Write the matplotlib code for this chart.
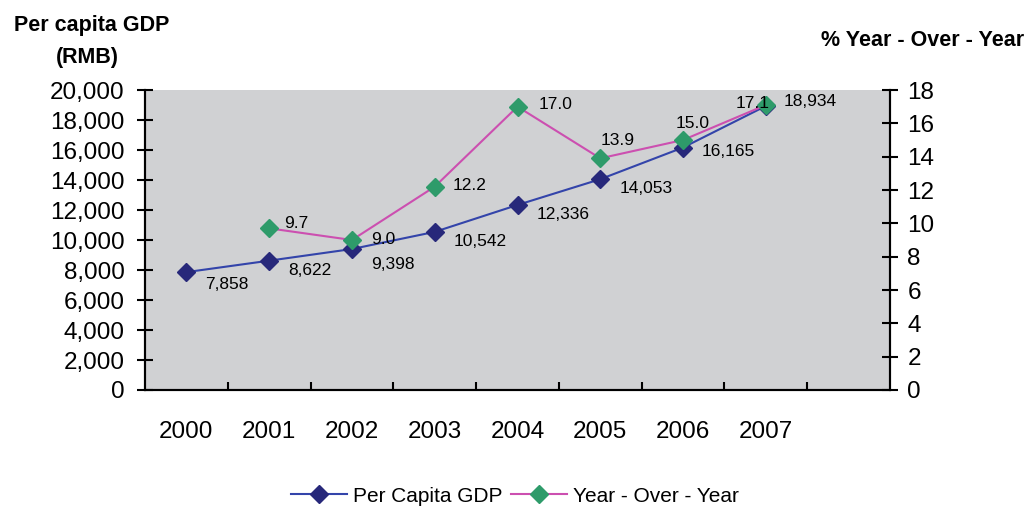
import matplotlib.pyplot as plt
from matplotlib.ticker import FuncFormatter, FixedLocator

plt.rcParams['font.family'] = ['Liberation Sans', 'DejaVu Sans']

# data
years = ['2000', '2001', '2002', '2003', '2004', '2005', '2006', '2007']
gdp = [7858, 8622, 9398, 10542, 12336, 14053, 16165, 18934]
yoy_years = ['2001', '2002', '2003', '2004', '2005', '2006', '2007']
yoy = [9.7, 9.0, 12.2, 17.0, 13.9, 15.0, 17.1]

# label offsets in pixels (style only)
gdp_off = [(19, -12), (19, -10), (19, -15), (19, -10), (19, -10), (19, -9), (19, -4), (18, 4)]
yoy_off = [(15, 5), (19, 1), (18, 1), (21, 2), (0, 18), (-7, 17), (-30, 1)]

BG = '#D0D1D3'
GDP_LINE = '#3344AA'
GDP_MARK = '#27287A'
YOY_LINE = '#CC4FB0'
YOY_MARK = '#2E9B6A'

fig = plt.figure(figsize=(10.27, 5.07), dpi=100)
ax = fig.add_axes([145 / 1027, 1 - 390 / 507, 745 / 1027, 300 / 507])
ax2 = ax.twinx()

x = list(range(len(years)))
xi = [years.index(y) for y in yoy_years]

l1, = ax.plot(x, gdp, color=GDP_LINE, lw=1.5, marker='D', ms=9.5,
              mfc=GDP_MARK, mec=GDP_MARK, label='Per Capita GDP', zorder=3)
l2, = ax2.plot(xi, yoy, color=YOY_LINE, lw=1.5, marker='D', ms=9.5,
               mfc=YOY_MARK, mec=YOY_MARK, label='Year - Over - Year', zorder=3)

for xx, v, off in zip(x, gdp, gdp_off):
    ax.annotate(f'{v:,}', (xx, v), xytext=off, textcoords='offset pixels',
                fontsize=12.5, ha='left', va='center')
for xx, v, off in zip(xi, yoy, yoy_off):
    ax2.annotate(f'{v:.1f}', (xx, v), xytext=off, textcoords='offset pixels',
                 fontsize=12.5, ha='left', va='center', zorder=4)

ax.set_facecolor(BG)
ax2.patch.set_visible(False)
ax.set_xlim(-0.5, 8.5)
ax.set_ylim(0, 20000)
ax2.set_ylim(0, 18)
ax.set_yticks(range(0, 20001, 2000))
ax2.set_yticks(range(0, 19, 2))
ax.yaxis.set_major_formatter(FuncFormatter(lambda v, p: f'{int(v):,}'))

ax.set_xticks(x)
ax.set_xticklabels(years)
ax.xaxis.set_minor_locator(FixedLocator([i + 0.5 for i in range(8)]))
ax.tick_params(axis='x', which='major', length=0, labelsize=17.5, pad=22)
ax.tick_params(axis='x', which='minor', direction='in', length=6, width=1.5)
ax.tick_params(axis='y', direction='inout', length=11, width=1.5, labelsize=17.5, pad=9)
ax2.tick_params(axis='y', direction='inout', length=11, width=1.5, labelsize=17.5, pad=7)

for a in (ax, ax2):
    a.spines['top'].set_visible(False)
    for s in ('left', 'right', 'bottom'):
        a.spines[s].set_linewidth(1.5)

fig.text(92 / 1027, 1 - 26 / 507, 'Per capita GDP', ha='center', va='center',
         fontsize=15.5, fontweight='bold')
fig.text(87 / 1027, 1 - 57 / 507, '(RMB)', ha='center', va='center',
         fontsize=15.5, fontweight='bold')
fig.text(1024 / 1027, 1 - 40 / 507, '% Year - Over - Year', ha='right', va='center',
         fontsize=15.5, fontweight='bold')

fig.legend(handles=[l1, l2], loc='center', bbox_to_anchor=(515 / 1027, 1 - 496 / 507),
           ncol=2, frameon=False, fontsize=15, handlelength=2.7,
           columnspacing=0.4, handletextpad=0.3)

fig.savefig('out.png', dpi=100)
